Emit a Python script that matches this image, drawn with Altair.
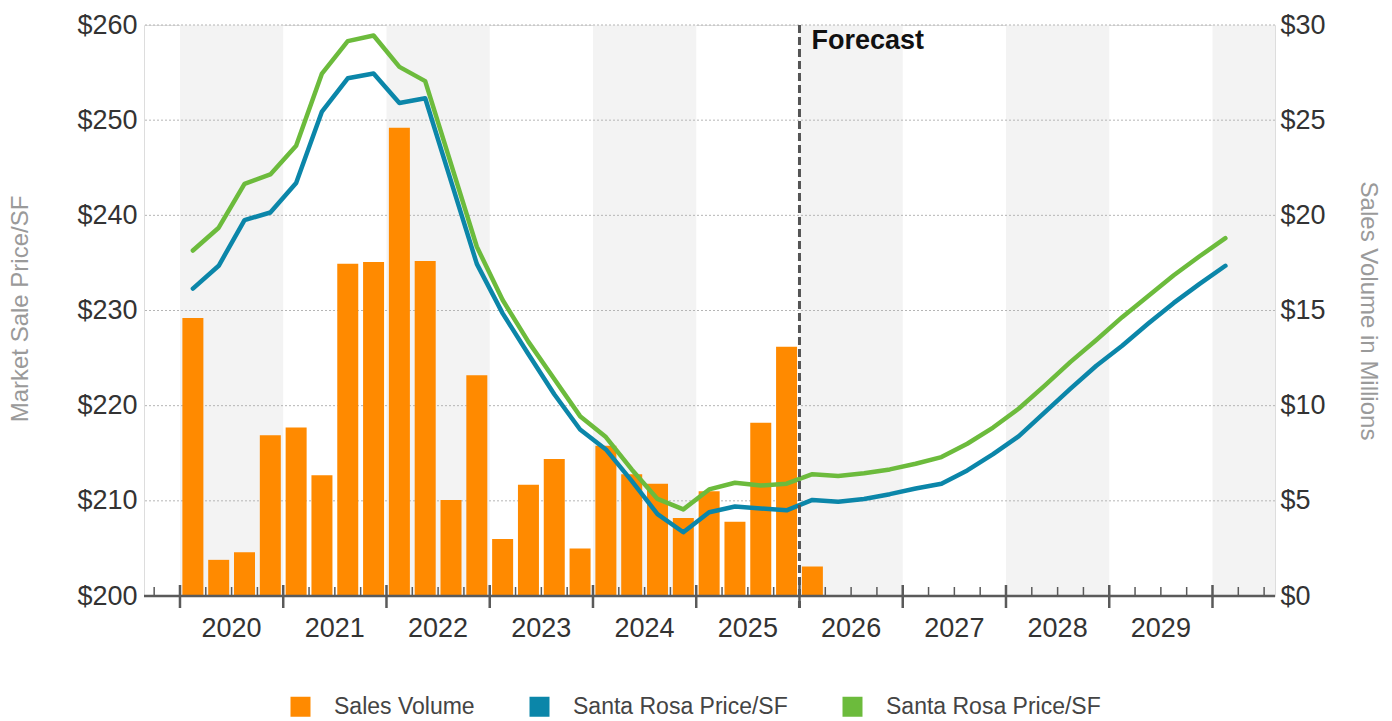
import altair as alt
import pandas as pd

# ---------------- data ----------------
first_year = 2020
band_starts = [2020, 2022, 2024, 2026, 2028, 2030]
year_ticks = list(range(2020, 2031))
year_labels = ["2020", "2021", "2022", "2023", "2024", "2025", "2026", "2027", "2028", "2029"]
forecast_start = [2026.0]

# Sales volume in $ millions, quarterly 2020 Q1 .. 2026 Q1
sales_volume = [14.6, 1.9, 2.3, 8.45,
                8.85, 6.35, 17.45, 17.55,
                24.6, 17.6, 5.05, 11.6,
                3.0, 5.85, 7.2, 2.5,
                7.9, 6.4, 5.9, 4.1,
                5.5, 3.9, 9.1, 13.1,
                1.55]

# Market sale price / SF, quarterly 2020 Q1 .. 2030 Q1
price_blue = [232.3, 234.7, 239.5, 240.3,
              243.4, 250.9, 254.4, 254.9,
              251.8, 252.3, 243.6, 234.9,
              229.7, 225.4, 221.2, 217.5,
              215.4, 212.1, 208.6, 206.7,
              208.8, 209.4, 209.2, 209.0,
              210.1, 209.9, 210.2, 210.7,
              211.3, 211.8, 213.2, 214.9,
              216.8, 219.3, 221.8, 224.2,
              226.3, 228.6, 230.8, 232.8,
              234.7]
price_green = [236.3, 238.7, 243.3, 244.3,
               247.3, 254.9, 258.3, 258.9,
               255.6, 254.1, 245.4, 236.7,
               231.1, 226.7, 222.8, 218.9,
               216.7, 213.3, 210.2, 209.1,
               211.2, 211.9, 211.6, 211.8,
               212.8, 212.6, 212.9, 213.3,
               213.9, 214.6, 216.0, 217.7,
               219.7, 222.1, 224.6, 226.9,
               229.3, 231.5, 233.7, 235.7,
               237.6]

price_ticks = [200, 210, 220, 230, 240, 250, 260]
grid_values = [210, 220, 230, 240, 250, 260]
volume_ticks = [0, 5, 10, 15, 20, 25, 30]

series_names = ["Sales Volume", "Santa Rosa Price/SF|a", "Santa Rosa Price/SF|b"]
series_colors = ["#ff8a00", "#0b86a9", "#6cbb3c"]

# ---------------- frames ----------------
def qpos(i):
    return first_year + (i + 0.5) / 4

vol_df = pd.DataFrame({
    "t": [qpos(i) for i in range(len(sales_volume))],
    "volume": sales_volume,
    "series": series_names[0],
})
line_df = pd.concat([
    pd.DataFrame({"t": [qpos(i) for i in range(len(price_blue))],
                  "price": price_blue, "series": series_names[1]}),
    pd.DataFrame({"t": [qpos(i) for i in range(len(price_green))],
                  "price": price_green, "series": series_names[2]}),
])
bands_df = pd.DataFrame({"start": band_starts, "end": [b + 1 for b in band_starts]})
grid_df = pd.DataFrame({"v": grid_values})
major_df = pd.DataFrame({"t": year_ticks})
minor_df = pd.DataFrame({"t": [2019.75] + [y + q / 4 for y in range(2020, 2031)
                                           for q in (1, 2, 3) if y + q / 4 <= 2030.5]})
ylab_df = pd.DataFrame({"t": [int(s) + 0.5 for s in year_labels], "label": year_labels})
fc_df = pd.DataFrame({"t": forecast_start})
base_df = pd.DataFrame({"v": [200]})

# ---------------- layout ----------------
W, H = 1131, 571
FONT = "Liberation Sans"
AXIS_GRAY = "#5a5a5a"
xs = alt.Scale(domain=[2019.70, 2030.557], nice=False, zero=False)
price_scale = alt.Scale(domain=[200, 260], nice=False, zero=False)
vol_scale = alt.Scale(domain=[0, 30], nice=False)
color_scale = alt.Scale(domain=series_names, range=series_colors)

left_axis = alt.Axis(orient="left", values=price_ticks, labelExpr="'$' + datum.value",
                     title="Market Sale Price/SF", grid=False, ticks=False, tickSize=0,
                     domain=False, labelFontSize=27, labelColor="#333333", labelFont=FONT,
                     labelPadding=7, titleX=-124, titleY=H / 2 - 2, titleAngle=-90,
                     titleBaseline="middle", titleAlign="center", titleFontSize=24,
                     titleFontWeight="normal", titleColor="#9a9a9a", titleFont=FONT)

right_axis = alt.Axis(orient="right", values=volume_ticks, labelExpr="'$' + datum.value",
                      title="Sales Volume in Millions", grid=False, ticks=False, tickSize=0,
                      domain=False, labelFontSize=27, labelColor="#333333", labelFont=FONT,
                      labelPadding=5, titleX=92, titleY=H / 2, titleAngle=90,
                      titleBaseline="middle", titleAlign="center", titleFontSize=24,
                      titleFontWeight="normal", titleColor="#9a9a9a", titleFont=FONT)

legend = alt.Legend(orient="none", legendX=145, legendY=670, direction="horizontal",
                    title=None, symbolType="square", symbolSize=400, symbolStrokeWidth=0,
                    labelFontSize=23, labelColor="#444444", labelFont=FONT,
                    labelOffset=22, columnPadding=53, padding=0, labelLimit=400,
                    labelExpr="split(datum.label, '|')[0]")

bands = alt.Chart(bands_df).mark_rect(color="#f3f3f3", clip=True).encode(
    x=alt.X("start:Q", scale=xs, axis=None), x2="end:Q",
    y=alt.value(0), y2=alt.value(H))

grid = alt.Chart(grid_df).mark_rule(color="#b5b5b5", strokeDash=[2, 2], strokeWidth=1).encode(
    y=alt.Y("v:Q", scale=price_scale, axis=None))

forecast = alt.Chart(fc_df).mark_rule(color="#555555", strokeDash=[8, 4], strokeWidth=3).encode(
    x=alt.X("t:Q", scale=xs, axis=None), y=alt.value(0), y2=alt.value(H + 12))

bars = alt.Chart(vol_df).mark_bar(size=21).encode(
    x=alt.X("t:Q", scale=xs, axis=None),
    y=alt.Y("volume:Q", scale=vol_scale, axis=right_axis),
    color=alt.Color("series:N", scale=color_scale, legend=legend))

lines = alt.Chart(line_df).mark_line(strokeWidth=4.5, strokeCap="round", strokeJoin="round").encode(
    x=alt.X("t:Q", scale=xs, axis=None),
    y=alt.Y("price:Q", scale=price_scale, axis=left_axis),
    color=alt.Color("series:N", scale=color_scale, legend=None))

baseline = alt.Chart(base_df).mark_rule(color=AXIS_GRAY, strokeWidth=2.5).encode(
    y=alt.Y("v:Q", scale=price_scale, axis=None))

major = alt.Chart(major_df).mark_rule(color=AXIS_GRAY, strokeWidth=2.5).encode(
    x=alt.X("t:Q", scale=xs, axis=None), y=alt.value(H - 11), y2=alt.value(H + 12))

minor = alt.Chart(minor_df).mark_rule(color=AXIS_GRAY, strokeWidth=1.5).encode(
    x=alt.X("t:Q", scale=xs, axis=None), y=alt.value(H - 9), y2=alt.value(H))

year_text = alt.Chart(ylab_df).mark_text(align="center", baseline="middle", fontSize=27,
                                         color="#333333", font=FONT).encode(
    x=alt.X("t:Q", scale=xs, axis=None), y=alt.value(H + 33), text="label:N")

fc_text = alt.Chart(fc_df).mark_text(text="Forecast", align="left", baseline="alphabetic",
                                     dx=12, fontSize=27, fontWeight="bold", color="#111111",
                                     font=FONT).encode(
    x=alt.X("t:Q", scale=xs, axis=None), y=alt.value(24))

chart = alt.layer(bands, grid, bars, lines, forecast, baseline, major, minor,
                  year_text, fc_text).resolve_scale(
    y="independent"
).properties(
    width=W, height=H,
    autosize=alt.AutoSizeParams(type="none"),
    padding={"left": 144, "top": 25, "right": 117, "bottom": 125},
).configure_view(strokeWidth=0).configure(background="white")

chart.save("out.html", embed_options={"renderer": "svg", "actions": False})
